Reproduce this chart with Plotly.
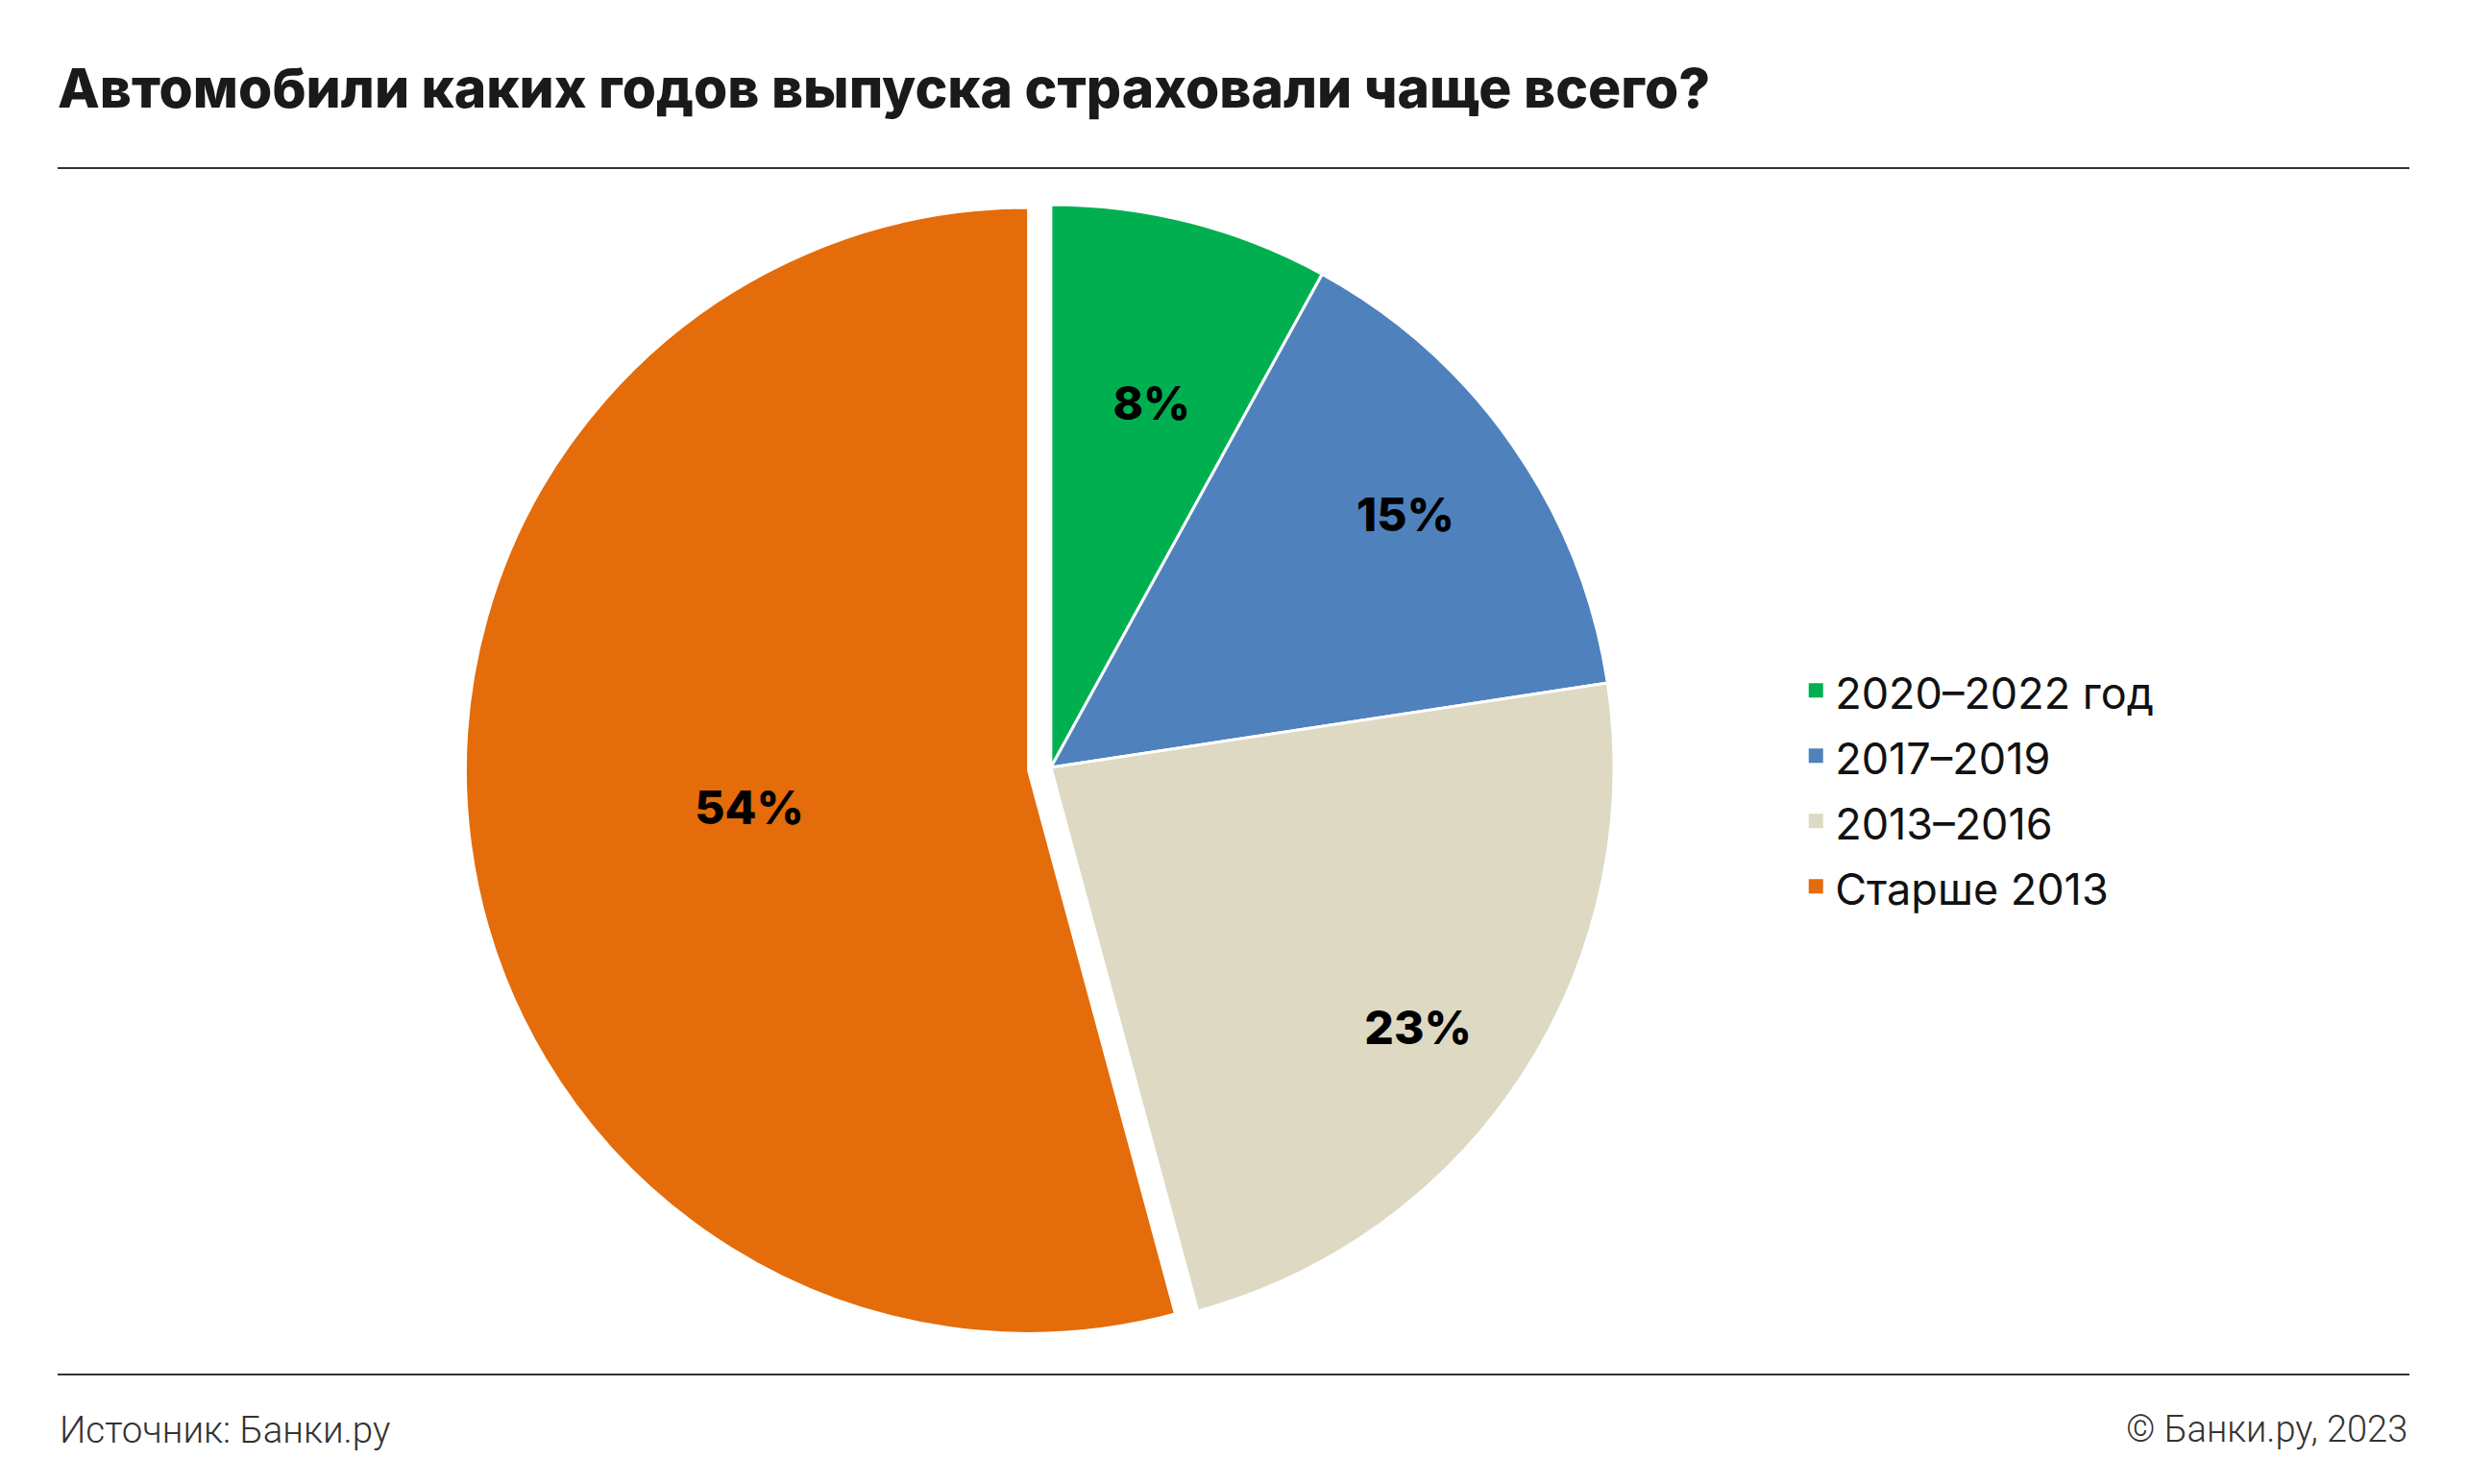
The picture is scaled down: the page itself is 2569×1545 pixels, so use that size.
import plotly.graph_objects as go

# Data
categories = ["2020–2022 год", "2017–2019", "2013–2016", "Старше 2013"]
shares = [8, 14.6, 23.2, 54.2]
colors = ["#00B050", "#4F81BD", "#DDD9C3", "#E46C0A"]
pulls = [0, 0, 0, 0.04]

W, H = 2569, 1545

# label placement padding (style only):
# (leading blank lines, first blank line font size, leading pad, trailing pad, trailing blank lines)
NB = "\u00a0"
label_pads = [
    (2, 76, "", "\u2002", 0),
    (0, None, "\u2003\u2002", "", 1),
    (2, 81, "\u2003\u2003\u2003\u2002\u2009", "", 0),
    (0, None, "", "", 0),
]
labels_text = []
for v, (lead, fs, lpad, tpad, trail) in zip(shares, label_pads):
    s = ""
    for i in range(lead):
        if i == 0 and fs:
            s += '<span style="font-size:%dpx">%s</span><br>' % (fs, NB)
        else:
            s += NB + "<br>"
    s += lpad + f"{v:.0f}%" + tpad + ("<br>" + NB) * trail
    labels_text.append(s)

fig = go.Figure()
fig.add_trace(go.Pie(
    labels=categories,
    values=shares,
    text=labels_text,
    sort=False,
    direction="clockwise",
    rotation=0,
    pull=pulls,
    marker=dict(colors=colors, line=dict(color="white", width=3)),
    texttemplate="%{text}",
    textposition="inside",
    insidetextorientation="horizontal",
    textfont=dict(family="Inter", size=48, color="black", weight=800),
    hovertemplate="%{label}: %{value}%<extra></extra>",
    domain=dict(x=[0.1885, 0.6631], y=[0.0877, 0.8779]),
    showlegend=False,
))

# legend entries
for c, col in zip(categories, colors):
    fig.add_trace(go.Scatter(
        x=[None], y=[None], mode="markers",
        name='<span style="font-size:45px">%s</span>' % c,
        marker=dict(symbol="square", size=15, color=col),
        showlegend=True, hoverinfo="skip",
    ))

fig.update_layout(
    width=W, height=H,
    margin=dict(l=0, r=0, t=0, b=0),
    paper_bgcolor="white",
    plot_bgcolor="white",
    xaxis=dict(visible=False),
    yaxis=dict(visible=False),
    showlegend=True,
    legend=dict(
        x=0.728, y=0.560, xanchor="left", yanchor="top",
        font=dict(family="Inter", size=50, color="#111111"),
        itemwidth=30,
        bgcolor="rgba(0,0,0,0)",
    ),
    annotations=[
        dict(text="Автомобили каких годов выпуска страховали чаще всего?",
             x=58 / W, y=1 - 92 / H, xref="paper", yref="paper",
             xanchor="left", yanchor="middle", showarrow=False,
             font=dict(family="Inter", size=57, color="#1a1a1a", weight=800)),
        dict(text="Источник: Банки.ру",
             x=60 / W, y=1 - 1488 / H, xref="paper", yref="paper",
             xanchor="left", yanchor="middle", showarrow=False,
             font=dict(family="Roboto", size=38.5, color="#333333", weight=300)),
        dict(text="© Банки.ру, 2023",
             x=2508 / W, y=1 - 1488 / H, xref="paper", yref="paper",
             xanchor="right", yanchor="middle", showarrow=False,
             font=dict(family="Roboto", size=38, color="#333333", weight=300)),
    ],
    shapes=[
        dict(type="line", xref="paper", yref="paper",
             x0=60 / W, x1=2508 / W, y0=1 - 175 / H, y1=1 - 175 / H,
             line=dict(color="#333333", width=2)),
        dict(type="line", xref="paper", yref="paper",
             x0=60 / W, x1=2508 / W, y0=1 - 1431 / H, y1=1 - 1431 / H,
             line=dict(color="#333333", width=2)),
    ],
)

fig.write_html("out.html")
